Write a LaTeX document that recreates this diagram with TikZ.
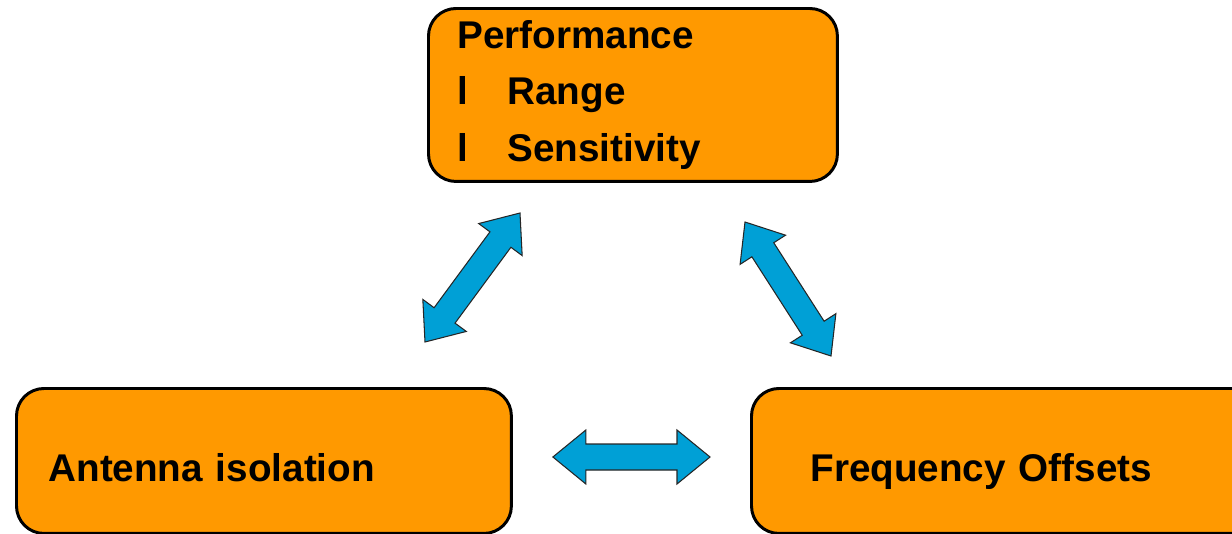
\documentclass[tikz,border=0pt]{standalone}
\usepackage{fontspec}
\setmainfont{Liberation Sans}
\usepackage{tikz}
\usetikzlibrary{calc}
\definecolor{boxorange}{RGB}{255,153,0}
\definecolor{arrowblue}{RGB}{0,160,214}

\begin{document}
\begin{tikzpicture}[
  x=0.02cm, y=-0.02cm,
  box/.style={rectangle, rounded corners=0.55cm, draw=black, line width=1.7pt,
              fill=boxorange, anchor=north west, align=left,
              font=\fontsize{22}{32}\selectfont\bfseries},
  onerow/.style={box, minimum height=2.9cm, text height=0.82cm, text depth=0pt},
  dblarrow/.style={draw=black!85, line width=0.6pt, fill=arrowblue, line join=miter,
    to path={
      ($(\tikztostart)!0.66cm!(\tikztotarget)$) coordinate (b1)
      ($(\tikztotarget)!0.66cm!(\tikztostart)$) coordinate (b2)
      (\tikztostart) -- ($(b1)!0.54cm!90:(\tikztotarget)$)
      -- ($(b1)!0.26cm!90:(\tikztotarget)$) -- ($(b2)!0.26cm!90:(\tikztotarget)$)
      -- ($(b2)!0.54cm!90:(\tikztotarget)$) -- (\tikztotarget)
      -- ($(b2)!0.54cm!-90:(\tikztotarget)$) -- ($(b2)!0.26cm!-90:(\tikztotarget)$)
      -- ($(b1)!0.26cm!-90:(\tikztotarget)$) -- ($(b1)!0.54cm!-90:(\tikztotarget)$)
      -- cycle}}
]
\useasboundingbox (0,0) rectangle (1232,534);
\clip (0,0) rectangle (1232,534);

\node[box, inner xsep=0.58cm, text width=7.02cm, minimum height=3.46cm] (perf) at (427,7)
  {Performance\\ \makebox[1cm][l]{l}Range\\ \makebox[1cm][l]{l}Sensitivity};
\node[onerow, inner xsep=0.64cm, text width=8.62cm] (ant) at (15,387)
  {Antenna isolation};
\node[onerow, inner xsep=1.18cm, text width=8.14cm] (freq) at (750,387)
  {Frequency Offsets};

\coordinate (a1s) at (425,342);
\coordinate (a1e) at (520,213);
\coordinate (a2s) at (745,222);
\coordinate (a2e) at (831,356);
\coordinate (a3s) at ([xshift=0.8cm]ant.east |- 0,457);
\coordinate (a3e) at ([xshift=-0.8cm]freq.west |- 0,457);

\draw[dblarrow] (a1s) to (a1e);
\draw[dblarrow] (a2s) to (a2e);
\draw[dblarrow] (a3s) to (a3e);
\end{tikzpicture}
\end{document}
